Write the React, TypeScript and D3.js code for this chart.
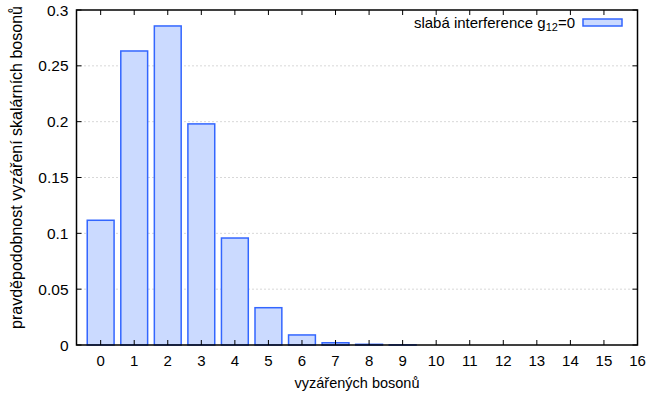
import React from "react";
import * as d3 from "d3";

const categories = [0, 1, 2, 3, 4, 5, 6, 7, 8, 9, 10, 11, 12, 13, 14, 15];
const values = [0.1117, 0.2633, 0.2857, 0.198, 0.0958, 0.0334, 0.009, 0.002, 0.0006, 0.0001, 0, 0, 0, 0, 0, 0];
const xTicks = [0, 1, 2, 3, 4, 5, 6, 7, 8, 9, 10, 11, 12, 13, 14, 15, 16];
const yTicks = [0, 0.05, 0.1, 0.15, 0.2, 0.25, 0.3];
const yTickLabels = ["0", "0.05", "0.1", "0.15", "0.2", "0.25", "0.3"];
const xLabel = "vyzářených bosonů";
const yLabel = "pravděpodobnost vyzáření skalárních bosonů";
const legendText = "slabá interference g";
const legendSub = "12";
const legendTail = "=0";

const W = 646, H = 396;
const L = 76.5, R = 637.5, T = 10, B = 345;
const FONT = "'Liberation Sans', Arial, Helvetica, sans-serif";
const FILL = "#cbdaff";
const STROKE = "#3366ff";

export default function App() {
  const x = d3.scaleLinear().domain([-0.72, 16]).range([L, R]);
  const y = d3.scaleLinear().domain([0, 0.3]).range([B, T]);
  const bw = x(0.8) - x(0);
  const tl = 5;
  return (
    <svg width={W} height={H} style={{ position: "absolute", left: 0, top: 0 }} fontFamily={FONT}>
      <rect x={0} y={0} width={W} height={H} fill="#fff" />
      {yTicks.slice(1, -1).map((t) => (
        <line key={"g" + t} x1={L} x2={R} y1={y(t)} y2={y(t)} stroke="#b0b0b0" strokeWidth={1} strokeDasharray="1,3" />
      ))}
      {categories.map((c, i) => {
        const v = values[i];
        if (v <= 0) return null;
        const h = B - y(v);
        return (
          <rect key={"b" + c} x={x(c) - bw / 2} y={y(v)} width={bw} height={h}
            fill={FILL} stroke={STROKE} strokeWidth={1.5} />
        );
      })}
      {yTicks.map((t, i) => (
        <g key={"y" + t}>
          <line x1={L} x2={L + tl} y1={y(t)} y2={y(t)} stroke="#000" />
          <line x1={R} x2={R - tl} y1={y(t)} y2={y(t)} stroke="#000" />
          <text x={L - 8} y={y(t) + 5.5} textAnchor="end" fontSize={15.5}>{yTickLabels[i]}</text>
        </g>
      ))}
      {xTicks.map((t) => (
        <g key={"x" + t}>
          <line x1={x(t)} x2={x(t)} y1={B} y2={B - tl} stroke="#000" />
          <line x1={x(t)} x2={x(t)} y1={T} y2={T + tl} stroke="#000" />
          <text x={x(t)} y={B + 21} textAnchor="middle" fontSize={15}>{t}</text>
        </g>
      ))}
      <rect x={L} y={T} width={R - L} height={B - T} fill="none" stroke="#000" strokeWidth={1.5} />
      <text x={(L + R) / 2} y={388} textAnchor="middle" fontSize={14.5}>{xLabel}</text>
      <text transform={`translate(22,167.5) rotate(-90)`} textAnchor="middle" fontSize={16}>{yLabel}</text>
      <text x={575} y={28} textAnchor="end" fontSize={15}>
        {legendText}
        <tspan fontSize={11} dy={3}>{legendSub}</tspan>
        <tspan dy={-3}>{legendTail}</tspan>
      </text>
      <rect x={583} y={19} width={39} height={7} fill={FILL} stroke={STROKE} strokeWidth={1.5} />
    </svg>
  );
}
